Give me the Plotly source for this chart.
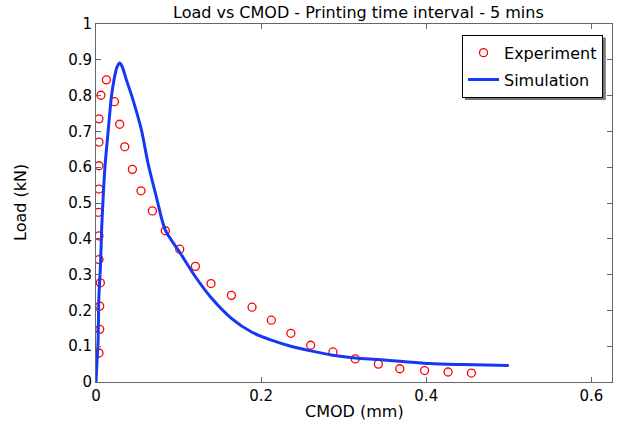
import plotly.graph_objects as go

# Experiment (CMOD mm, Load kN)
exp_cmod = [0.0036, 0.0045, 0.0045, 0.0053, 0.0036, 0.0036, 0.0029, 0.0036, 0.0036, 0.0036, 0.0036,
            0.0060, 0.0126, 0.0223, 0.0287, 0.0348, 0.0441, 0.0545, 0.0683, 0.0840, 0.1014, 0.1204,
            0.1393, 0.1640, 0.1890, 0.2124, 0.2360, 0.2600, 0.2870, 0.3140, 0.3420, 0.3680, 0.3980,
            0.4264, 0.4547]
exp_load = [0.081, 0.147, 0.212, 0.277, 0.342, 0.408, 0.474, 0.539, 0.604, 0.670, 0.735,
            0.801, 0.844, 0.783, 0.720, 0.657, 0.594, 0.534, 0.478, 0.4225, 0.371, 0.323,
            0.275, 0.242, 0.209, 0.1726, 0.136, 0.1027, 0.084, 0.0645, 0.050, 0.037, 0.032,
            0.028, 0.025]

# Simulation
sim_cmod = [0.0000, 0.0008, 0.0024, 0.0035, 0.0055, 0.0068, 0.0087, 0.0112, 0.0143, 0.0187,
            0.0218, 0.0255, 0.0287, 0.0315, 0.0368, 0.0436, 0.0550, 0.0630, 0.0730, 0.0840,
            0.1014, 0.1204, 0.1393, 0.1640, 0.1890, 0.2124, 0.2360, 0.2600, 0.2870, 0.3140,
            0.3420, 0.3680, 0.4040, 0.4445, 0.5000]
sim_load = [0.000, 0.040, 0.108, 0.238, 0.330, 0.424, 0.518, 0.611, 0.690, 0.797,
            0.844, 0.880, 0.891, 0.882, 0.844, 0.797, 0.704, 0.611, 0.518, 0.424,
            0.3626, 0.294, 0.236, 0.178, 0.139, 0.117, 0.100, 0.087, 0.0750, 0.067,
            0.0627, 0.058, 0.0515, 0.0487, 0.046]

x_ticks = [0, 0.2, 0.4, 0.6]
x_tick_text = ["0", "0.2", "0.4", "0.6"]
y_ticks = [0, 0.1, 0.2, 0.3, 0.4, 0.5, 0.6, 0.7, 0.8, 0.9, 1]
y_tick_text = ["0", "0.1", "0.2", "0.3", "0.4", "0.5", "0.6", "0.7", "0.8", "0.9", "1"]

FONT = "DejaVu Sans"

fig = go.Figure()
fig.add_trace(go.Scatter(
    x=exp_cmod, y=exp_load, mode="markers", name="Experiment", legendgroup="a",
    marker=dict(symbol="circle-open", size=8, color="#FF0000", line=dict(width=1.3, color="#FF0000")),
))
fig.add_trace(go.Scatter(
    x=sim_cmod, y=sim_load, mode="lines", name="Simulation", legendgroup="b",
    line=dict(color="#1438F5", width=3, shape="spline", smoothing=0.8),
))

axis_common = dict(
    showline=True, linecolor="#666666", linewidth=1, mirror="allticks",
    ticks="inside", ticklen=5, tickcolor="#666666", showgrid=False, zeroline=False,
    tickfont=dict(family=FONT, size=15, color="#000000"), automargin=False,
)

# legend shadow
fig.add_shape(type="rect", xref="paper", yref="paper",
              x0=0.715, x1=0.988, y0=0.788, y1=0.962,
              fillcolor="#777777", line=dict(width=0), layer="above")

fig.update_layout(
    width=618, height=428,
    margin=dict(l=96, r=6, t=24, b=46),
    paper_bgcolor="white", plot_bgcolor="white",
    xaxis=dict(range=[0, 0.625], tickvals=x_ticks, ticktext=x_tick_text, **axis_common),
    yaxis=dict(range=[0, 1], tickvals=y_ticks, ticktext=y_tick_text, **axis_common),
    legend=dict(x=0.9826, y=0.970, xanchor="right", yanchor="top",
                bgcolor="white", bordercolor="#000000", borderwidth=1,
                font=dict(family=FONT, size=16, color="#000000"),
                tracegroupgap=3, itemwidth=31),
    showlegend=True,
    annotations=[
        dict(text="Load vs CMOD - Printing time interval - 5 mins", xref="paper", yref="paper",
             x=0.508, y=1, xanchor="center", yanchor="middle", yshift=12, showarrow=False,
             font=dict(family=FONT, size=16, color="#000000")),
        dict(text="CMOD (mm)", xref="paper", yref="paper", x=0.5, y=0, xanchor="center",
             yanchor="middle", yshift=-29, showarrow=False,
             font=dict(family=FONT, size=16, color="#000000")),
        dict(text="Load (kN)", xref="paper", yref="paper", x=0, y=0.5, xanchor="center",
             yanchor="middle", xshift=-76, textangle=-90, showarrow=False,
             font=dict(family=FONT, size=16, color="#000000")),
    ],
)

fig.write_html("out.html", config={"displayModeBar": False},
               post_script="document.body.style.margin='0';document.body.style.overflow='hidden';")
